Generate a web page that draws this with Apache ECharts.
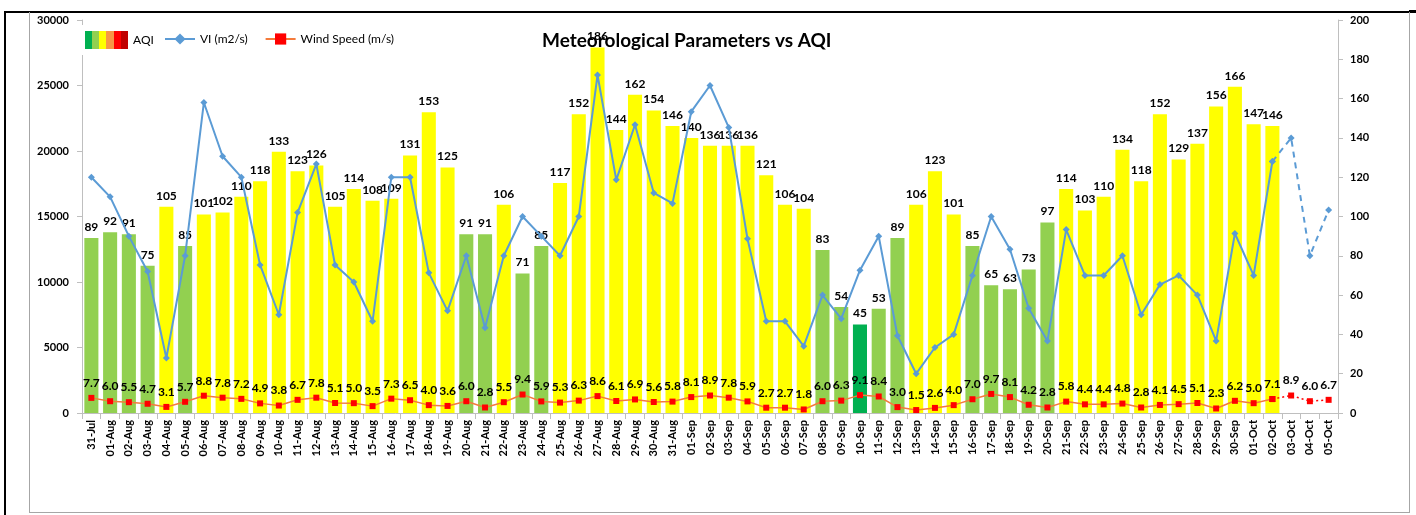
<!DOCTYPE html>
<html>
<head>
<meta charset="utf-8">
<script src="https://cdn.jsdelivr.net/npm/echarts@6/dist/echarts.min.js"></script>
<style>
  html, body { margin: 0; padding: 0; background: #fff; }
  #wrap { position: relative; width: 1416px; height: 515px; overflow: hidden; }
  #chart { position: absolute; left: 0; top: 0; width: 1416px; height: 515px; }
  .fr { position: absolute; pointer-events: none; }
</style>
</head>
<body>
<div id="wrap">
  <div id="chart"></div>
  <div class="fr" style="left:4px;top:11px;width:1412px;height:2px;background:#000;"></div>
  <div class="fr" style="left:4px;top:11px;width:2px;height:504px;background:#000;"></div>
  <div class="fr" style="left:1409px;top:10px;width:7px;height:3px;background:#000;"></div>
  <div class="fr" style="left:29px;top:12px;width:1381px;height:501px;border-left:1px solid #a6a6a6;border-right:1px solid #a6a6a6;border-bottom:1px solid #a6a6a6;box-sizing:border-box;"></div>
</div>
<script>
const categories = [
  '31-Jul',
  '01-Aug','02-Aug','03-Aug','04-Aug','05-Aug','06-Aug','07-Aug','08-Aug','09-Aug','10-Aug',
  '11-Aug','12-Aug','13-Aug','14-Aug','15-Aug','16-Aug','17-Aug','18-Aug','19-Aug','20-Aug',
  '21-Aug','22-Aug','23-Aug','24-Aug','25-Aug','26-Aug','27-Aug','28-Aug','29-Aug','30-Aug','31-Aug',
  '01-Sep','02-Sep','03-Sep','04-Sep','05-Sep','06-Sep','07-Sep','08-Sep','09-Sep','10-Sep',
  '11-Sep','12-Sep','13-Sep','14-Sep','15-Sep','16-Sep','17-Sep','18-Sep','19-Sep','20-Sep',
  '21-Sep','22-Sep','23-Sep','24-Sep','25-Sep','26-Sep','27-Sep','28-Sep','29-Sep','30-Sep',
  '01-Oct','02-Oct','03-Oct','04-Oct','05-Oct'
];

const aqi = [
  89,
  92, 91, 75, 105, 85, 101, 102, 110, 118, 133,
  123, 126, 105, 114, 108, 109, 131, 153, 125, 91,
  91, 106, 71, 85, 117, 152, 186, 144, 162, 154, 146,
  140, 136, 136, 136, 121, 106, 104, 83, 54, 45,
  53, 89, 106, 123, 101, 85, 65, 63, 73, 97,
  114, 103, 110, 134, 118, 152, 129, 137, 156, 166,
  147, 146, null, null, null
];

const vi = [
  18000,
  16500, 13500, 10800, 4200, 12000, 23700, 19600, 18000, 11300, 7500,
  15300, 19000, 11300, 10000, 7000, 18000, 18000, 10700, 7800, 12000,
  6500, 12000, 15000, 13500, 12000, 15000, 25800, 17800, 22000, 16800, 16000,
  23000, 25000, 21800, 13300, 7000, 7000, 5100, 9000, 7200, 10900,
  13500, 5900, 3000, 5000, 6000, 10500, 15000, 12500, 8000, 5500,
  14000, 10500, 10500, 12000, 7500, 9800, 10500, 9000, 5500, 13700,
  10500, 19200, 21000, 12000, 15500
];

const wind = [
  7.7,
  6.0, 5.5, 4.7, 3.1, 5.7, 8.8, 7.8, 7.2, 4.9, 3.8,
  6.7, 7.8, 5.1, 5.0, 3.5, 7.3, 6.5, 4.0, 3.6, 6.0,
  2.8, 5.5, 9.4, 5.9, 5.3, 6.3, 8.6, 6.1, 6.9, 5.6, 5.8,
  8.1, 8.9, 7.8, 5.9, 2.7, 2.7, 1.8, 6.0, 6.3, 9.1,
  8.4, 3.0, 1.5, 2.6, 4.0, 7.0, 9.7, 8.1, 4.2, 2.8,
  5.8, 4.4, 4.4, 4.8, 2.8, 4.1, 4.5, 5.1, 2.3, 6.2,
  5.0, 7.1, 8.9, 6.0, 6.7
];

const viTicks = { min: 0, max: 30000, interval: 5000 };
const aqiTicks = { min: 0, max: 200, interval: 20 };
const forecastFrom = categories.indexOf('02-Oct');

const FONT = 'Lato, "Open Sans", sans-serif';
const AXIS_GREY = '#bfbfbf';

function aqiColor(v) {
  if (v <= 50) return '#00b050';
  if (v <= 100) return '#92d050';
  if (v <= 200) return '#ffff00';
  if (v <= 300) return '#f79646';
  if (v <= 400) return '#ff0000';
  return '#c00000';
}

const barData = aqi.map(v => v == null ? null : { value: v, itemStyle: { color: aqiColor(v) } });
const viActual = vi.map((v, i) => i <= forecastFrom ? v : null);
const viForecast = vi.map((v, i) => i >= forecastFrom ? v : null);
const windActual = wind.map((v, i) => i <= forecastFrom ? v : null);
const windForecast = wind.map((v, i) => i >= forecastFrom
  ? { value: v, label: { show: i > forecastFrom } } : null);

const aqiLegendColor = new echarts.graphic.LinearGradient(0, 0, 1, 0, [
  { offset: 0, color: '#00b050' }, { offset: 1/6, color: '#00b050' },
  { offset: 1/6, color: '#92d050' }, { offset: 2/6, color: '#92d050' },
  { offset: 2/6, color: '#ffff00' }, { offset: 3/6, color: '#ffff00' },
  { offset: 3/6, color: '#f79646' }, { offset: 4/6, color: '#f79646' },
  { offset: 4/6, color: '#ff0000' }, { offset: 5/6, color: '#ff0000' },
  { offset: 5/6, color: '#c00000' }, { offset: 1, color: '#c00000' }
]);

const chart = echarts.init(document.getElementById('chart'), null, { renderer: 'canvas' });

const labelStyle = { color: '#000', fontWeight: 'bold', fontSize: 12, fontFamily: FONT };

chart.setOption({
  animation: false,
  backgroundColor: '#fff',
  title: {
    text: 'Meteorological Parameters vs AQI',
    left: 537, top: 26,
    textStyle: { color: '#000', fontWeight: 'bold', fontSize: 19, fontFamily: FONT }
  },
  legend: [
    {
      data: [{ name: 'AQI', icon: 'rect', itemStyle: { color: aqiLegendColor } }],
      left: 79, top: 25, padding: [6, 6, 6, 6],
      itemWidth: 43, itemHeight: 18, itemGap: 5,
      backgroundColor: '#fff',
      textStyle: { color: '#000', fontSize: 12, fontFamily: FONT }
    },
    {
      data: ['VI (m2/s)', 'Wind Speed (m/s)'],
      left: 158, top: 25, padding: [8, 6, 8, 6],
      itemWidth: 30, itemHeight: 14, itemGap: 17,
      backgroundColor: '#fff',
      textStyle: { color: '#000', fontSize: 12, fontFamily: FONT }
    }
  ],
  grid: { left: 82, right: 78, top: 20, bottom: 102, containLabel: false },
  xAxis: {
    type: 'category',
    data: categories,
    boundaryGap: true,
    axisLine: { lineStyle: { color: AXIS_GREY } },
    axisTick: { show: true, alignWithLabel: false, length: 6, lineStyle: { color: AXIS_GREY } },
    axisLabel: {
      interval: 0, rotate: 90, margin: 7,
      color: '#000', fontWeight: 'bold', fontSize: 11, fontFamily: FONT
    },
    splitLine: { show: false }
  },
  yAxis: [
    {
      type: 'value',
      min: viTicks.min, max: viTicks.max, interval: viTicks.interval,
      position: 'left',
      axisLine: { show: true, lineStyle: { color: AXIS_GREY } },
      axisTick: { show: true, length: 5, lineStyle: { color: AXIS_GREY } },
      axisLabel: { margin: 13, color: '#000', fontWeight: 'bold', fontSize: 11, fontFamily: FONT,
        formatter: v => String(v) },
      splitLine: { show: false }
    },
    {
      type: 'value',
      min: aqiTicks.min, max: aqiTicks.max, interval: aqiTicks.interval,
      position: 'right',
      axisLine: { show: true, lineStyle: { color: AXIS_GREY } },
      axisTick: { show: true, length: 5, lineStyle: { color: AXIS_GREY } },
      axisLabel: { margin: 12, color: '#000', fontWeight: 'bold', fontSize: 11, fontFamily: FONT,
        formatter: v => String(v) },
      splitLine: { show: false }
    }
  ],
  series: [
    {
      name: 'AQI',
      type: 'bar',
      yAxisIndex: 1,
      data: barData,
      barCategoryGap: '25%',
      label: Object.assign({ show: true, position: 'top', distance: 5 }, labelStyle),
      z: 1
    },
    {
      name: 'VI (m2/s)',
      type: 'line',
      yAxisIndex: 0,
      data: viActual,
      symbol: 'diamond', symbolSize: 7, showAllSymbol: true,
      lineStyle: { color: '#5b9bd5', width: 2 },
      itemStyle: { color: '#5b9bd5' },
      z: 3
    },
    {
      name: 'VI forecast',
      type: 'line',
      yAxisIndex: 0,
      data: viForecast,
      symbol: 'diamond', symbolSize: 7, showAllSymbol: true,
      lineStyle: { color: '#5b9bd5', width: 2, type: [6, 5] },
      itemStyle: { color: '#5b9bd5' },
      z: 3
    },
    {
      name: 'Wind Speed (m/s)',
      type: 'line',
      yAxisIndex: 1,
      data: windActual,
      symbol: 'rect', symbolSize: 6, showAllSymbol: true,
      lineStyle: { color: '#f47b3c', width: 1.5 },
      itemStyle: { color: '#ff0000' },
      label: Object.assign({ show: true, position: 'top', distance: 6,
        formatter: p => Number(p.value).toFixed(1) }, labelStyle),
      z: 4
    },
    {
      name: 'Wind forecast',
      type: 'line',
      yAxisIndex: 1,
      data: windForecast,
      symbol: 'rect', symbolSize: 6, showAllSymbol: true,
      lineStyle: { color: '#ff0000', width: 1.5, type: [2, 3] },
      itemStyle: { color: '#ff0000' },
      label: Object.assign({ show: true, position: 'top', distance: 6,
        formatter: p => Number(p.value).toFixed(1) }, labelStyle),
      z: 4
    }
  ]
});
</script>
</body>
</html>
